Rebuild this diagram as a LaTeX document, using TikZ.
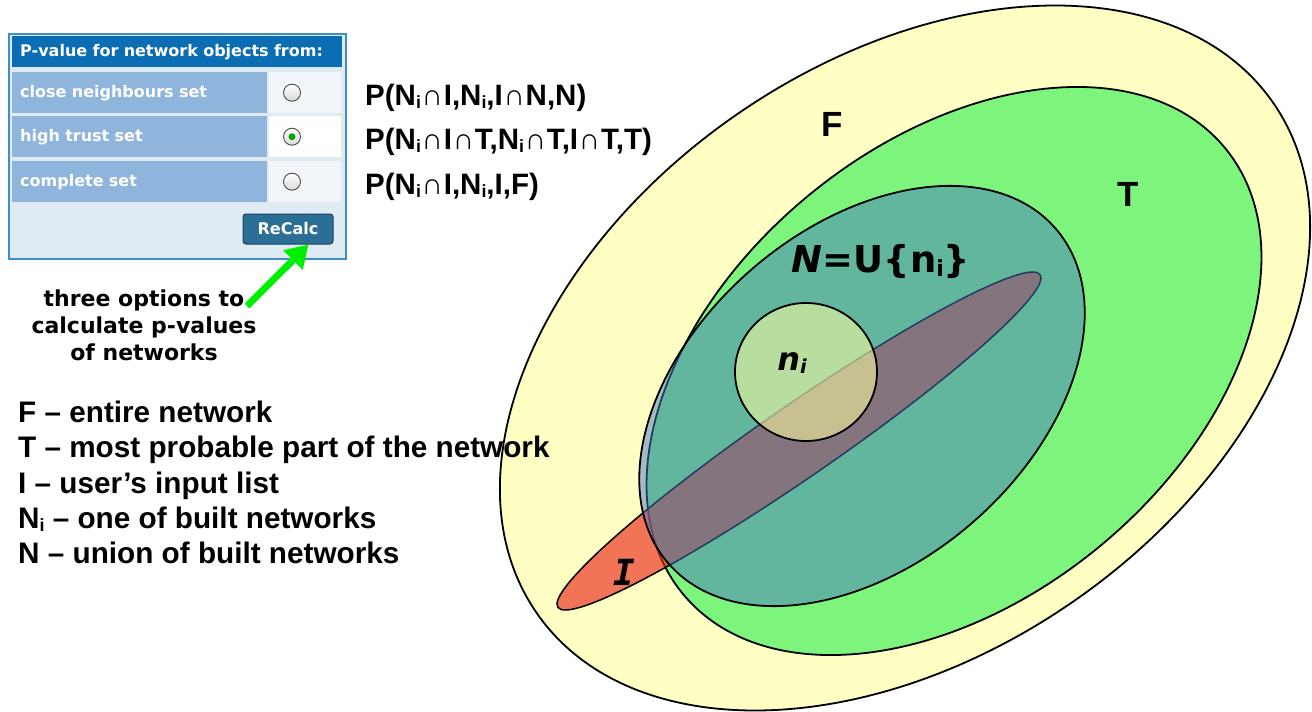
\documentclass[tikz,border=0pt]{standalone}
\usepackage{graphicx}
\usepackage{fontspec}
\setmainfont{Liberation Sans}
\newfontfamily\vsans{DejaVu Sans}[ItalicFont={DejaVu Sans Oblique}, BoldItalicFont={DejaVu Sans Bold Oblique}]
\newfontfamily\vmono{DejaVu Sans Mono}[BoldItalicFont={DejaVu Sans Mono Bold Oblique}]
\usetikzlibrary{arrows.meta, positioning, calc}

\definecolor{panelbg}{HTML}{DEEBF3}
\definecolor{panelrim}{HTML}{3E8ECB}
\definecolor{headblue}{HTML}{0B6DB3}
\definecolor{rowblue}{HTML}{8FB5DC}
\definecolor{cellpale}{HTML}{F2F6FA}
\definecolor{btnblue}{HTML}{2B6F96}
\definecolor{btnrim}{HTML}{17445F}
\definecolor{fyellow}{HTML}{FFFFC4}
\definecolor{tgreen}{HTML}{7DF57D}
\definecolor{nblue}{HTML}{4878C0}
\definecolor{ired}{HTML}{E82A1A}
\definecolor{niyellow}{HTML}{FFFFA0}
\definecolor{arrowgreen}{HTML}{00EE00}

\newcommand{\lowi}{\raisebox{-0.12em}{\scalebox{0.6}{i}}}
\newcommand{\isect}{\kern0.8pt∩\kern0.8pt}

\tikzset{
    panel/.style={draw=panelrim, line width=1.5pt, fill=panelbg, anchor=north west,
        minimum width=337pt, minimum height=225pt, inner sep=0pt},
    head/.style={fill=headblue, anchor=north west, text=white, align=left,
        text width=314pt, inner xsep=8pt, minimum height=31pt,
        font=\vsans\bfseries\fontsize{16}{16}\selectfont},
    rowcell/.style={fill=rowblue, anchor=north west, text=white, align=left,
        text width=239pt, inner xsep=8pt, minimum height=41pt,
        font=\vsans\bfseries\fontsize{16}{16}\selectfont},
    radiocell/.style={fill=cellpale, anchor=north west, minimum width=72pt,
        minimum height=41pt, inner sep=0pt},
    radio/.style={circle, draw=gray!60!black, line width=0.9pt, top color=white,
        bottom color=gray!30, minimum size=17pt, inner sep=0pt},
    btn/.style={draw=btnrim, line width=1pt, fill=btnblue, rounded corners=3pt,
        minimum width=90pt, minimum height=30pt, text=white,
        font=\vsans\bfseries\fontsize{16}{16}\selectfont},
    note/.style={align=center, inner sep=0pt,
        font=\vsans\bfseries\fontsize{22}{27}\selectfont},
    formula/.style={anchor=base west, inner sep=0pt, font=\bfseries\fontsize{29.5}{30}\selectfont},
    key/.style={anchor=base west, inner sep=0pt, font=\bfseries\fontsize{29.7}{30}\selectfont},
    venn/.style={draw=black, line width=1.8pt},
    setname/.style={inner sep=0pt, font=\bfseries\fontsize{35}{35}\selectfont},
    garrow/.style={-{Triangle[length=22pt, width=26pt]}, line width=7pt, draw=arrowgreen},
}

\begin{document}
\begin{tikzpicture}[x=1pt, y=-1pt]
    \useasboundingbox (0,0) rectangle (1312,712);

    % sets
    \path[venn, fill=fyellow, rotate around={34.7:(905,358)}] (905,358) ellipse [x radius=448, y radius=296];
    \path[venn, fill=tgreen, rotate around={39.4:(954,371)}] (954,371) ellipse [x radius=351, y radius=228];
    \path[venn, line width=1.5pt, fill=ired, fill opacity=0.65, rotate around={34.6:(799,441)}] (799,441) ellipse [x radius=293, y radius=36];
    \path[venn, fill=nblue, fill opacity=0.5, rotate around={40.8:(862,396)}] (862,396) ellipse [x radius=256, y radius=168];
    \path[venn, fill=niyellow, fill opacity=0.55] (806,372) ellipse [x radius=71, y radius=69];

    \node[setname] (nameF) at (832,124) {F};
    \node[setname] (nameT) at (1128,194) {T};
    \node[anchor=base, inner sep=0pt, font=\vsans\bfseries\fontsize{37}{37}\selectfont] (nameN) at (881,272) {\textit{N}=U\{n\lowi\}};
    \node[anchor=base, inner sep=0pt, font=\vsans\bfseries\itshape\fontsize{32}{32}\selectfont] (nameni) at (792,370) {n\lowi};
    \node[inner sep=0pt, font=\vmono\bfseries\itshape\fontsize{36}{36}\selectfont] (nameI) at (624,572) {I};

    % option panel
    \node[panel] (panel) at (8,33) {};
    \node[head] (head) at (12,36) {P-value for network objects from:};
    \node[rowcell] (row1) at (12,72) {close neighbours set};
    \node[rowcell] (row2) at (12,116) {high trust set};
    \node[rowcell] (row3) at (12,161) {complete set};
    \node[radiocell] (cell1) at (269,72) {};
    \node[radiocell, fill=white] (cell2) at (269,116) {};
    \node[radiocell] (cell3) at (269,161) {};
    \foreach \k in {1,2,3} {
        \node[radio] (dot\k) at ($(cell\k.west)+(23,0)$) {};
    }
    \fill[green!65!black] (dot2) circle (3.5pt);
    \node[btn] (recalc) at (288,229) {ReCalc};

    % p-value formulas
    \node[formula] (p1) at (365,105) {P(N\lowi\isect I,N\lowi,I\isect N,N)};
    \node[formula] (p2) at (365,149) {P(N\lowi\isect I\isect T,N\lowi\isect T,I\isect T,T)};
    \node[formula] (p3) at (365,194) {P(N\lowi\isect I,N\lowi,I,F)};

    \node[note] (opts) at (144,325) {three options to\\calculate p-values\\of networks};
    \coordinate (tail) at (247,306);
    \draw[garrow] (tail) -- (recalc.-37);

    % legend
    \foreach \txt [count=\k from 0] in {F – entire network, T – most probable part of the network,
        I – user’s input list, {N\lowi{} – one of built networks}, N – union of built networks}
        \node[key] (key\k) at (18, 422.5+35.25*\k) {\txt};
\end{tikzpicture}
\end{document}
